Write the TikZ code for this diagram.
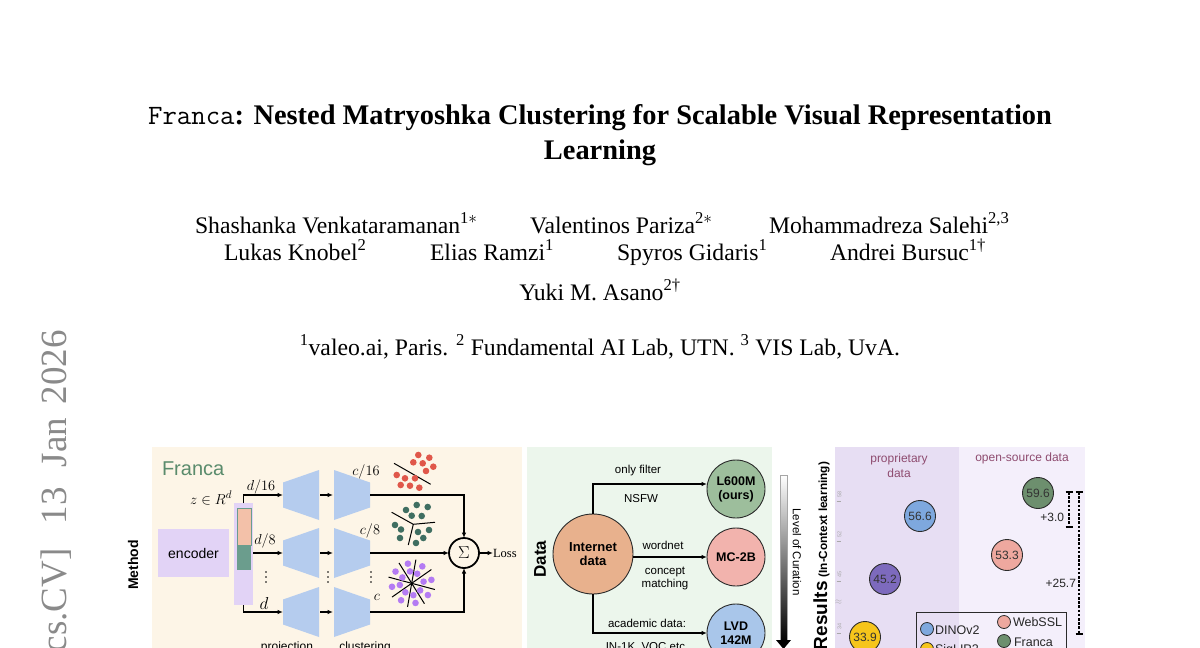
\documentclass[tikz,border=0pt]{standalone}
\usepackage{fontspec}
\setmainfont{Liberation Serif}
\setsansfont{Liberation Sans}
\usetikzlibrary{arrows.meta,calc}
\definecolor{pone}{HTML}{FDF5E7}
\definecolor{ptwo}{HTML}{ECF6EC}
\definecolor{pthreea}{HTML}{E7DEF3}
\definecolor{pthreeb}{HTML}{F4EFFB}
\definecolor{encfill}{HTML}{E2D3F6}
\definecolor{salmonbar}{HTML}{F3C1A9}
\definecolor{tealbar}{HTML}{6B9D8D}
\definecolor{trapfill}{HTML}{B5CCEE}
\definecolor{francagreen}{HTML}{5A8B6C}
\definecolor{dotred}{HTML}{E0574A}
\definecolor{dotteal}{HTML}{3F6E61}
\definecolor{dotpurple}{HTML}{B47BF3}
\definecolor{inetfill}{HTML}{E8B18D}
\definecolor{lgreen}{HTML}{9DBE9C}
\definecolor{mcpink}{HTML}{F2B3AD}
\definecolor{lvdblue}{HTML}{A9C6EA}
\definecolor{outline}{HTML}{2B2B2B}
\definecolor{dinoblue}{HTML}{7EA8DE}
\definecolor{sigyellow}{HTML}{F6C51B}
\definecolor{sigpurple}{HTML}{7D6ABD}
\definecolor{webpink}{HTML}{EEA89F}
\definecolor{francadark}{HTML}{6D8F6E}
\definecolor{maroonlab}{HTML}{8E4B6F}
\definecolor{stampgray}{HTML}{8A8A8A}
\definecolor{ticktext}{HTML}{A8A8A8}
\newcommand\fsz[2]{\fontsize{#1}{#2}\selectfont}
\begin{document}
\begin{tikzpicture}[x=1pt,y=-1pt,
  every node/.style={inner sep=0pt,outer sep=0pt},
  conn/.style={-{Latex[length=5.5pt,width=4.5pt]}, line width=1.1pt, draw=black},
  trapshape/.style={fill=trapfill},
  sflab/.style={font=\sffamily\fsz{11.5}{13.5}},
  datacirc/.style={circle, draw=outline, line width=0.9pt, minimum size=58pt, align=center, font=\sffamily\bfseries\fsz{12.5}{14}},
  rescirc/.style={circle, draw=outline, line width=0.9pt, minimum size=31pt, font=\sffamily\fsz{12}{13}, text=black!80},
  legcirc/.style={circle, draw=outline, line width=0.8pt, minimum size=13pt},
  legtext/.style={anchor=west, font=\sffamily\fsz{12.5}{14}, text=black!85},
  ticklab/.style={rotate=90, font=\sffamily\fsz{5.5}{6}, text=ticktext},
  tickmark/.style={draw=ticktext, line width=0.8pt},
  brk/.style={line width=1.2pt, dash pattern=on 2.6pt off 1.6pt},
  brkcap/.style={line width=1.2pt},
  authorfont/.style={font=\fsz{23.7}{28}},
  mathlab/.style={font=\fsz{13.5}{15}},
]
\useasboundingbox (0,0) rectangle (1200,648);

% ---------- arXiv stamp ----------
\node[rotate=90, anchor=base east, font=\fsz{37}{40}, text=stampgray] (stamp) at (66,330) {cs.CV]\hspace{24pt}13\hspace{20pt}Jan\hspace{14pt}2026};

% ---------- title ----------
\node[anchor=base, font=\fsz{28.4}{34}\bfseries] (title1) at (600,124) {{\mdseries\ttfamily\fsz{28}{34}Franca}: Nested Matryoshka Clustering for Scalable Visual Representation};
\node[anchor=base, font=\fsz{28.4}{34}\bfseries] (title2) at (600,159) {Learning};

% ---------- authors ----------
\node[anchor=base west, authorfont] (au1) at (195,233) {Shashanka Venkataramanan\textsuperscript{1$*$}};
\node[anchor=base west, authorfont] (au2) at (530,233) {Valentinos Pariza\textsuperscript{2$*$}};
\node[anchor=base west, authorfont] (au3) at (769,233) {Mohammadreza Salehi\textsuperscript{2,3}};
\node[anchor=base west, authorfont] (au4) at (224,260) {Lukas Knobel\textsuperscript{2}};
\node[anchor=base west, authorfont] (au5) at (430,260) {Elias Ramzi\textsuperscript{1}};
\node[anchor=base west, authorfont] (au6) at (617,260) {Spyros Gidaris\textsuperscript{1}};
\node[anchor=base west, authorfont] (au7) at (830,260) {Andrei Bursuc\textsuperscript{1\textdagger}};
\node[anchor=base, authorfont] (au8) at (600,300) {Yuki M. Asano\textsuperscript{2\textdagger}};
\node[anchor=base, authorfont] (affil) at (600,355) {\textsuperscript{1}valeo.ai, Paris. \textsuperscript{2} Fundamental AI Lab, UTN. \textsuperscript{3} VIS Lab, UvA.};

% ---------- panel backgrounds ----------
\fill[pone] (152,447) rectangle (522,660);
\fill[ptwo] (527,447) rectangle (772,660);
\fill[pthreea] (835,447) rectangle (959,660);
\fill[pthreeb] (959,447) rectangle (1085,660);

% ---------- Method panel ----------
\node[rotate=90, font=\sffamily\bfseries\fsz{14}{16}] (method) at (133,565) {Method};
\node[anchor=west, font=\sffamily\fsz{20}{22}, text=francagreen] (franca) at (162,469) {Franca};
\node[fill=encfill, minimum width=71pt, minimum height=48pt, font=\sffamily\fsz{14}{16}] (enc) at (193.5,553) {encoder};
\node[fill=encfill, minimum width=19pt, minimum height=102pt] (bar) at (243.5,554) {};
\node[fill=salmonbar, draw=tealbar, line width=0.7pt, minimum width=14pt, minimum height=37pt] (barA) at (244,526.5) {};
\node[fill=tealbar, minimum width=14pt, minimum height=25pt] (barB) at (244,557.5) {};
\node[anchor=east, font=\fsz{15}{17}] (zlab) at (232,498) {$z \in R^d$};

\foreach \r/\y in {1/495,2/553,3/612}{
  \fill[trapshape] (283,\y-12.5) -- (319,\y-25) -- (319,\y+25) -- (283,\y+12.5) -- cycle;
  \fill[trapshape] (334,\y-25) -- (370,\y-12.5) -- (370,\y+12.5) -- (334,\y+25) -- cycle;
  \coordinate (p\r w) at (283,\y);
  \coordinate (p\r e) at (320,\y);
  \coordinate (c\r w) at (333,\y);
  \coordinate (c\r e) at (370,\y);
  \draw[conn] (p\r e) -- (c\r w);
}
\node[mathlab] (d16) at (261,487) {$d/16$};
\node[mathlab] (d8) at (265,541) {$d/8$};
\node[font=\fsz{16}{17}] (dfull) at (264,603) {$d$};
\node[mathlab] (c16) at (366,472) {$c/16$};
\node[mathlab] (c8) at (370,531) {$c/8$};
\node[mathlab] (cfull) at (377,597) {$c$};
\foreach \xx in {266,328,371}
  \foreach \yy in {572,577,582}
    \fill (\xx,\yy) circle (0.9);

\draw[conn] (bar.north) |- (p1w);
\draw[conn] (bar.east |- p2w) -- (p2w);
\draw[conn] (bar.south) |- (p3w);

\node[circle, draw=black, line width=1.8pt, minimum size=30pt, font=\fsz{16}{18}] (sigma) at (464,553) {$\Sigma$};
\draw[conn] (c1e) -| (sigma.north);
\draw[conn] (c2e) -- (sigma.west);
\draw[conn] (c3e) -| (sigma.south);
\node[anchor=west, font=\fsz{12.5}{14}] (loss) at (493,553) {Loss};
\draw[conn] (sigma.east) -- (loss.west);

\node[anchor=base, font=\sffamily\fsz{12}{14}] (projlab) at (287,650.5) {projection};
\node[anchor=base, font=\sffamily\fsz{12}{14}] (clustlab) at (365,650.5) {clustering};

% clusters
\draw[line width=1pt] (394,463.3) -- (430.7,484.3);
\foreach \p in {(418.3,455),(429.3,457.7),(413.3,462.3),(422.7,463.3),(433.3,466.7),(426,471),(396.7,475),(405,478.3),(415,478.3),(400.7,485),(410,485.7),(419.3,487.7)}
  \fill[dotred] \p circle (3.3);

\coordinate (tc) at (413.3,524.3);
\draw[line width=1pt] (391.7,512.3) -- (tc) -- (435,522.3);
\draw[line width=1pt] (tc) -- (408.3,545);
\foreach \p in {(416.7,505),(427.7,507),(406,510),(411.7,515.7),(421.7,516),(395,525),(401,529.5),(400,538),(429,530),(418,532),(423.3,538),(416,543)}
  \fill[dotteal] \p circle (3.3);

\coordinate (pc) at (411.7,583.3);
\foreach \a in {15,58,100,145}
  \draw[line width=1pt] ($(pc)+(\a:24)$) -- ($(pc)+(\a+180:24)$);
\foreach \a/\rr in {36/20,79/20,122/20,170/20,216/20,259/20,302/20,350/20,40/11,82/12,125/11,172/12,212/11,262/12,300/11,352/12}
  \fill[dotpurple] ($(pc)+(\a:\rr)$) circle (3.3);

% ---------- Data panel ----------
\node[rotate=90, font=\sffamily\bfseries\fsz{17}{19}] (datalab) at (540,559) {Data};
\node[circle, draw=outline, line width=0.9pt, fill=inetfill, minimum size=80pt, align=center, font=\sffamily\bfseries\fsz{13}{14}] (inet) at (593,554) {Internet\\data};
\node[datacirc, fill=lgreen] (l600) at (736,489) {L600M\\(ours)};
\node[datacirc, fill=mcpink] (mc) at (736,557) {MC-2B};
\node[datacirc, fill=lvdblue] (lvd) at (736,633) {LVD\\142M};
\draw[conn] (inet.north) |- ([yshift=5pt]l600.west);
\draw[conn] (inet.east |- mc.west) -- (mc.west);
\draw[conn] (inet.south) |- (lvd.west);
\node[sflab] (t1) at (638,471) {only filter};
\node[sflab] (t2) at (641,499) {NSFW};
\node[sflab] (t3) at (663,545) {wordnet};
\node[sflab, align=center, font=\sffamily\fsz{11.5}{13.5}] (t4) at (665,578.5) {concept\\matching};
\node[sflab] (t5) at (647,623) {academic data:};
\node[sflab] (t6) at (647,647.5) {IN-1K, VOC etc.};

% level of curation
\coordinate (curtop) at (780,475);
\coordinate (curbot) at (787,641);
\shadedraw[top color=white, bottom color=black, draw=gray!70, line width=0.5pt] (curtop) rectangle (curbot);
\fill[black] (776,640) -- (791,640) -- (783.5,649) -- cycle;
\node[rotate=-90, font=\sffamily\fsz{11.5}{13}] (curation) at (797,552) {Level of Curation};

% ---------- Results panel ----------
\node[rotate=90, anchor=base east] (reslab) at (827,462) {{\sffamily\bfseries\fsz{19}{20}Results}\hspace{4pt}{\sffamily\bfseries\fsz{11.8}{13}(In-Context learning)}};
\node[align=center, text=maroonlab, font=\sffamily\fsz{12}{15}] (prop) at (899,465.5) {proprietary\\data};
\node[text=maroonlab, font=\sffamily\fsz{12}{15}] (open) at (1022,458) {open-source data};

\node[ticklab] (tk1) at (839.5,494) {58};
\node[ticklab] (tk2) at (839.5,534) {52};
\node[ticklab] (tk3) at (839.5,574) {45};
\node[ticklab] (tk4) at (839.5,626) {34};
\node[font=\fsz{9}{10}, text=ticktext] (tkapprox) at (838.5,602) {$\approx$};
\foreach \yy in {501,541,581,633} \draw[tickmark] (836.5,\yy) -- (841,\yy);

\node[rescirc, fill=dinoblue] (r1) at (920,516) {56.6};
\node[rescirc, fill=sigpurple] (r2) at (885,579) {45.2};
\node[rescirc, fill=sigyellow] (r3) at (865,637) {33.9};
\node[rescirc, fill=francadark] (r4) at (1038,493) {59.6};
\node[rescirc, fill=webpink] (r5) at (1007,555) {53.3};

\coordinate (b1t) at (1069,492);
\coordinate (b1b) at (1069,527);
\coordinate (b2t) at (1079,492);
\coordinate (b2b) at (1079,634);
\draw[brk] (b1t) -- (b1b);
\draw[brk] (b2t) -- (b2b);
\foreach \c in {b1t,b1b,b2t,b2b} \draw[brkcap] ([xshift=-3.5pt]\c) -- ([xshift=3.5pt]\c);
\node[font=\sffamily\fsz{12}{13}, text=black!85, anchor=east] (g1) at (1064,517) {+3.0};
\node[font=\sffamily\fsz{12}{13}, text=black!85, anchor=east] (g2) at (1076,583) {+25.7};

\draw[draw=outline, line width=0.9pt] (916,612) rectangle (1066,680);
\node[legcirc, fill=dinoblue] (ld) at (927,629) {};
\node[legtext] (ldt) at (935,630) {DINOv2};
\node[legcirc, fill=sigyellow] (ls) at (927,649) {};
\node[legtext] (lst) at (935,650) {SigLIP2};
\node[legcirc, fill=webpink] (lw) at (1004,622) {};
\node[legtext] (lwt) at (1013,622) {WebSSL};
\node[legcirc, fill=francadark] (lf) at (1004,641) {};
\node[legtext] (lft) at (1014,642) {Franca};
\end{tikzpicture}
\end{document}
